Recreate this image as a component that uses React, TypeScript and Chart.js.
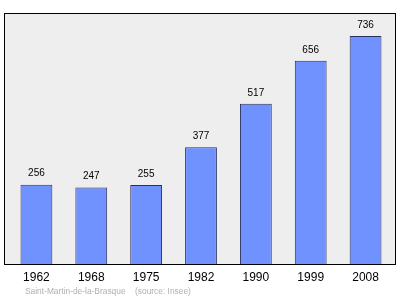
import React, { useEffect, useRef } from "react";
import { Chart, registerables } from "chart.js";

Chart.register(...registerables);

const years = ["1962", "1968", "1975", "1982", "1990", "1999", "2008"];
const population = [256, 247, 255, 377, 517, 656, 736];
const footerName = "Saint-Martin-de-la-Brasque";
const footerSource = "(source: Insee)";

const FONT = "'Liberation Sans', Arial, sans-serif";

const decor = {
  id: "decor",
  beforeDraw(chart: any) {
    const { ctx, chartArea } = chart;
    ctx.save();
    ctx.fillStyle = "#eeeeee";
    const l = 4.5, t = 13.5, r = 395.5, b = chartArea.bottom + 0.5;
    ctx.fillRect(l, t, r - l, b - t);
    ctx.strokeStyle = "#000000";
    ctx.lineWidth = 1;
    ctx.strokeRect(l, t, r - l, b - t);
    ctx.restore();
  },
  afterDatasetsDraw(chart: any) {
    const { ctx } = chart;
    const xs = chart.scales.x;
    const ys = chart.scales.y;
    ctx.save();
    ctx.textAlign = "center";
    ctx.textBaseline = "middle";
    ctx.fillStyle = "#000000";
    ctx.font = `10px ${FONT}`;
    population.forEach((v, i) => {
      const x = xs.getPixelForValue(i);
      const y = ys.getPixelForValue(v);
      ctx.fillText(String(v), x, y - 11);
    });
    ctx.font = `12px ${FONT}`;
    years.forEach((yr, i) => {
      ctx.fillText(yr, xs.getPixelForValue(i), 277.5);
    });
    ctx.textAlign = "left";
    ctx.fillStyle = "#b0b0b0";
    ctx.font = `8.4px ${FONT}`;
    ctx.fillText(footerName, 25, 291.5);
    ctx.fillText(footerSource, 135, 291.5);
    ctx.restore();
  },
};

export default function App() {
  const ref = useRef<HTMLCanvasElement>(null);
  useEffect(() => {
    const chart = new Chart(ref.current!, {
      type: "bar",
      data: {
        labels: years,
        datasets: [
          {
            data: population,
            backgroundColor: "#6f92ff",
            borderColor: "#2b2f5e",
            borderWidth: 1,
            barPercentage: 0.58,
            categoryPercentage: 1,
          },
        ],
      },
      options: {
        responsive: false,
        animation: false,
        events: [],
        layout: { padding: { left: 9, right: 7, top: 14, bottom: 35 } },
        plugins: { legend: { display: false }, tooltip: { enabled: false } },
        scales: {
          x: { display: false, offset: true },
          y: { display: false, min: 0, max: 807 },
        },
      },
      plugins: [decor],
    });
    return () => chart.destroy();
  }, []);
  return (
    <div style={{ position: "fixed", left: 0, top: 0 }}>
      <canvas ref={ref} width={400} height={299} style={{ width: 400, height: 299 }} />
    </div>
  );
}
